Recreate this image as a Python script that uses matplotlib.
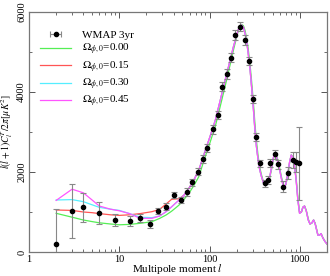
import numpy as np
import matplotlib
matplotlib.use("Agg")
import matplotlib.pyplot as plt
from matplotlib.ticker import NullFormatter, MultipleLocator

plt.rcParams['font.family'] = ['Liberation Serif', 'DejaVu Serif']
plt.rcParams['mathtext.fontset'] = 'stix'

# WMAP 3yr binned data
data_l = [2, 3, 4, 6, 9, 13, 17, 22, 27, 33, 40, 48, 56, 64, 74, 84, 94, 109, 123, 139,
          155, 175, 192, 217, 247, 275, 305, 331, 366, 409, 445, 472, 527, 573, 651, 738,
          838, 911, 968]
data_D = [200, 1025, 1117, 983, 792, 775, 842, 700, 1025, 1133, 1425, 1300, 1500, 1742, 2008,
          2317, 2610, 3067, 3425, 4133, 4450, 4858, 5425, 5633, 5300, 4775, 3817, 2870, 2217,
          1717, 1800, 2233, 2442, 2192, 1633, 1967, 2300, 2258, 2217]
data_err = [870, 685, 360, 272, 150, 120, 100, 90, 85, 85, 85, 85, 90, 90, 95, 100, 100, 110,
            110, 115, 115, 120, 120, 120, 120, 110, 100, 95, 90, 90, 95, 100, 110, 120, 130,
            150, 200, 250, 920]

# model curves
model_l = [2, 3, 4, 5, 6, 8, 10, 13, 17, 23, 28, 33, 38, 42, 46, 52, 59, 67, 76, 90, 100,
           116, 130, 149, 165, 184, 200, 208, 218, 226, 237, 247, 258, 268, 280, 292, 305,
           318, 330, 345, 360, 376, 395, 409, 425, 445, 464, 490, 510, 527, 545, 570, 598,
           630, 667, 700, 738, 770, 803, 840, 875, 910, 951, 993, 1040, 1080, 1127, 1180,
           1240, 1295, 1360, 1420, 1480, 1585, 1650, 1720, 1800, 1900, 2000]
mag = [1290, 1570, 1480, 1300, 1150, 1070, 1030, 960, 842, 842, 900, 1008, 1130, 1220, 1300,
       1420, 1592, 1800, 2050, 2550, 2850, 3300, 3750, 4300, 4700, 5133, 5420, 5560, 5650,
       5675, 5620, 5467, 5250, 4967, 4600, 4133, 3620, 3050, 2650, 2300, 2050, 1883, 1730,
       1675, 1700, 1790, 1883, 2150, 2360, 2467, 2430, 2250, 2050, 1800, 1592, 1700, 1967,
       2250, 2425, 2350, 2133, 1800, 1300, 967, 1000, 1120, 1150, 1020, 800, 700, 730, 800,
       700, 420, 420, 460, 350, 260, 200]
cyan = [1300, 1310, 1258, 1180, 1117, 1070, 1040, 960, 870, 858, 900, 1008, 1130, 1220, 1300,
        1420, 1592, 1800, 2050, 2550, 2850, 3300, 3750, 4300, 4700, 5133, 5420, 5560, 5650,
        5675, 5620, 5467, 5250, 4967, 4600, 4133, 3620, 3050, 2650, 2300, 2050, 1883, 1730,
        1675, 1700, 1790, 1883, 2150, 2360, 2467, 2430, 2250, 2050, 1800, 1592, 1700, 1967,
        2250, 2425, 2350, 2133, 1800, 1300, 967, 1000, 1120, 1150, 1020, 800, 700, 730, 800,
        700, 420, 420, 460, 350, 260, 200]
red = [1050, 1040, 1000, 983, 960, 930, 915, 930, 960, 1008, 1067, 1200, 1317, 1325, 1330,
       1420, 1592, 1800, 2050, 2550, 2850, 3300, 3750, 4300, 4700, 5133, 5420, 5560, 5650,
       5675, 5620, 5467, 5250, 4967, 4600, 4133, 3620, 3050, 2650, 2300, 2050, 1883, 1730,
       1675, 1700, 1790, 1883, 2150, 2360, 2467, 2430, 2250, 2050, 1800, 1592, 1700, 1967,
       2250, 2425, 2350, 2133, 1800, 1300, 967, 1000, 1120, 1150, 1020, 800, 700, 730, 800,
       700, 420, 420, 460, 350, 260, 200]
green = [967, 870, 800, 760, 730, 700, 680, 690, 717, 758, 840, 925, 1020, 1100, 1175,
         1310, 1467, 1660, 1883, 2400, 2700, 3150, 3600, 4150, 4580, 5050, 5380, 5530, 5640,
         5690, 5660, 5540, 5340, 5080, 4720, 4280, 3780, 3220, 2800, 2400, 2120, 1930, 1760,
         1690, 1690, 1760, 1850, 2100, 2320, 2450, 2460, 2300, 2100, 1850, 1620, 1680, 1930,
         2220, 2420, 2380, 2180, 1860, 1380, 1000, 990, 1100, 1150, 1040, 830, 700, 720, 800,
         720, 440, 420, 460, 360, 270, 200]

model_labels = [r'$\Omega_{\phi,0}$=0.00', r'$\Omega_{\phi,0}$=0.15',
                r'$\Omega_{\phi,0}$=0.30', r'$\Omega_{\phi,0}$=0.45']
model_colors = ['#55ee55', '#ff5555', '#55eeff', '#ff55ff']

fig = plt.figure(figsize=(3.30, 2.76), dpi=100)
ax = fig.add_axes([29/330, 24/276, 298/330, 240/276])

for D, lab, c in zip([green, red, cyan, mag], model_labels, model_colors):
    ax.plot(model_l, D, color=c, lw=0.9, label=lab, zorder=2)

ax.errorbar(data_l, data_D, yerr=data_err, fmt='o', color='black', ms=3.0,
            ecolor='#888888', elinewidth=0.8, capsize=2.5, capthick=0.8, zorder=3)
proxy = ax.errorbar([np.nan], [np.nan], xerr=[1], fmt='o', color='black', ms=3.0,
                    ecolor='#888888', elinewidth=0.8, capsize=2.5, capthick=0.8,
                    label='WMAP 3yr')

handles, labels = ax.get_legend_handles_labels()
order = [labels.index('WMAP 3yr')] + [labels.index(l) for l in model_labels]
ax.legend([handles[i] for i in order], [labels[i] for i in order], loc='upper left',
          frameon=False, fontsize=8, handlelength=2.8, handletextpad=1.0,
          labelspacing=0.2, borderaxespad=0.6, bbox_to_anchor=(0.0, 0.97))

ax.set_xscale('log')
ax.set_xlim(1, 2000)
ax.set_ylim(0, 6000)
ax.yaxis.set_major_locator(MultipleLocator(2000))
ax.yaxis.set_minor_locator(MultipleLocator(1000))
ax.tick_params(which='both', direction='in', top=True, right=True, labelsize=7.5,
               color='#555555')
ax.tick_params(which='major', length=4, width=0.7)
ax.tick_params(which='minor', length=2, width=0.6)
ax.tick_params(axis='y', pad=2)
ax.tick_params(axis='x', pad=2)
for lbl in ax.get_yticklabels():
    lbl.set_rotation(90)
    lbl.set_va('center')
ax.set_xticks([1, 10, 100, 1000])
ax.set_xticklabels(['1', '10', '100', '1000'])
ax.xaxis.set_minor_formatter(NullFormatter())
for s in ax.spines.values():
    s.set_color('#777777')
    s.set_linewidth(0.9)

ax.set_xlabel(r'Multipole moment $l$', fontsize=8, labelpad=-1)
ax.set_ylabel(r'$l(l+1)C_l^T/2\pi[\mu K^2]$', fontsize=7, labelpad=0)
ax.yaxis.set_label_coords(-0.048, 0.5)

fig.savefig('out.png', dpi=100)
